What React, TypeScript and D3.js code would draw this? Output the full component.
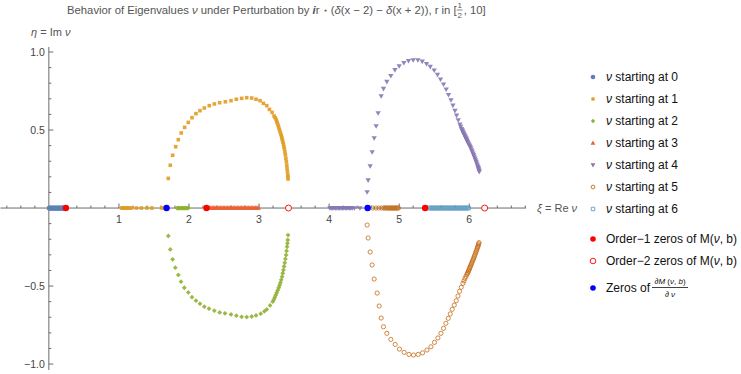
import { useEffect, useRef } from "react";
import * as d3 from "d3";

const width = 741;
const height = 374;

// real parts of the points that stay on the real axis
const axis0 = [0.005, 0.02, 0.035, 0.05, 0.065, 0.08, 0.095, 0.11, 0.125, 0.14, 0.155, 0.17, 0.185, 0.2, 0.215, 0.23];
const axis1 = [1.04, 1.055, 1.07, 1.085, 1.1, 1.115, 1.13, 1.15, 1.18, 1.25, 1.32, 1.4, 1.47, 1.61, 1.65];
const axis2 = [1.99, 1.975, 1.96, 1.945, 1.93, 1.915, 1.9, 1.885, 1.87, 1.855, 1.84, 1.83];
const axis3 = [2.99, 2.97, 2.95, 2.93, 2.91, 2.89, 2.87, 2.85, 2.83, 2.81, 2.79, 2.77, 2.75, 2.73, 2.71, 2.69, 2.67, 2.65, 2.63, 2.61, 2.59, 2.57, 2.55, 2.53, 2.51, 2.49, 2.47, 2.45, 2.43, 2.41, 2.39, 2.37, 2.35, 2.33, 2.31, 2.29];
const axis4 = [4.01, 4.03, 4.05, 4.07, 4.09, 4.11, 4.13, 4.15, 4.17, 4.19, 4.21, 4.23, 4.25, 4.27, 4.29, 4.31, 4.33, 4.36, 4.44];
const axis5 = [4.99, 4.975, 4.96, 4.945, 4.93, 4.915, 4.9, 4.885, 4.87, 4.855, 4.84, 4.82, 4.8, 4.78, 4.75, 4.71, 4.67, 4.62];
const axis6 = [5.99, 5.97, 5.95, 5.93, 5.91, 5.89, 5.87, 5.85, 5.83, 5.81, 5.79, 5.77, 5.75, 5.73, 5.71, 5.69, 5.67, 5.65, 5.63, 5.61, 5.59, 5.57, 5.55, 5.53, 5.51, 5.49, 5.47, 5.45, 5.43];

// complex branches [Re, Im]
const arc1 = [[1.705, 0.19], [1.733, 0.274], [1.767, 0.338], [1.81, 0.393], [1.848, 0.438], [1.89, 0.481], [1.938, 0.517], [1.99, 0.549], [2.043, 0.579], [2.1, 0.605], [2.157, 0.624], [2.219, 0.641], [2.29, 0.656], [2.362, 0.667], [2.438, 0.675], [2.519, 0.681], [2.6, 0.688], [2.676, 0.697], [2.752, 0.703], [2.824, 0.707], [2.895, 0.705], [2.957, 0.697], [3.014, 0.688], [3.062, 0.671], [3.11, 0.656], [3.148, 0.632], [3.186, 0.613], [3.214, 0.59], [3.23, 0.578], [3.243, 0.568], [3.253, 0.555], [3.262, 0.543], [3.272, 0.53], [3.281, 0.517], [3.29, 0.503], [3.3, 0.489], [3.31, 0.475], [3.319, 0.462], [3.326, 0.449], [3.333, 0.436], [3.341, 0.422], [3.348, 0.408], [3.355, 0.393], [3.362, 0.378], [3.369, 0.359], [3.376, 0.34], [3.383, 0.318], [3.39, 0.297], [3.395, 0.275], [3.4, 0.254], [3.405, 0.233], [3.41, 0.212], [3.412, 0.199], [3.414, 0.186]];
const arc2 = [[1.705, -0.179], [1.733, -0.265], [1.767, -0.329], [1.805, -0.382], [1.848, -0.429], [1.886, -0.472], [1.933, -0.511], [1.99, -0.541], [2.043, -0.571], [2.1, -0.594], [2.157, -0.613], [2.219, -0.632], [2.286, -0.645], [2.362, -0.658], [2.438, -0.669], [2.514, -0.675], [2.6, -0.682], [2.676, -0.69], [2.752, -0.697], [2.824, -0.699], [2.895, -0.695], [2.957, -0.688], [3.024, -0.677], [3.076, -0.662], [3.11, -0.65], [3.157, -0.624], [3.195, -0.6], [3.21, -0.587], [3.224, -0.573], [3.238, -0.558], [3.252, -0.543], [3.266, -0.527], [3.281, -0.511], [3.293, -0.495], [3.305, -0.479], [3.317, -0.46], [3.329, -0.44], [3.338, -0.418], [3.348, -0.397], [3.357, -0.374], [3.367, -0.351], [3.376, -0.326], [3.386, -0.301], [3.393, -0.275], [3.4, -0.248], [3.405, -0.226], [3.41, -0.205], [3.414, -0.173]];
const arc4 = [[4.543, 0.103], [4.557, 0.179], [4.586, 0.269], [4.614, 0.359], [4.643, 0.449], [4.671, 0.526], [4.7, 0.609], [4.743, 0.718], [4.776, 0.765], [4.824, 0.81], [4.881, 0.848], [4.939, 0.885], [5.0, 0.91], [5.067, 0.931], [5.133, 0.944], [5.2, 0.949], [5.267, 0.949], [5.329, 0.94], [5.39, 0.925], [5.443, 0.906], [5.5, 0.883], [5.547, 0.855], [5.59, 0.825], [5.633, 0.793], [5.671, 0.761], [5.704, 0.726], [5.739, 0.692], [5.767, 0.658], [5.796, 0.624], [5.819, 0.594], [5.843, 0.564], [5.867, 0.537], [5.878, 0.522], [5.89, 0.508], [5.898, 0.5], [5.905, 0.493], [5.912, 0.486], [5.919, 0.479], [5.926, 0.472], [5.933, 0.466], [5.94, 0.459], [5.947, 0.453], [5.955, 0.446], [5.962, 0.439], [5.969, 0.432], [5.976, 0.425], [5.985, 0.417], [5.995, 0.409], [6.004, 0.401], [6.014, 0.393], [6.024, 0.383], [6.033, 0.372], [6.043, 0.362], [6.053, 0.351], [6.062, 0.341], [6.071, 0.33], [6.081, 0.319], [6.09, 0.308], [6.099, 0.297], [6.107, 0.287], [6.116, 0.276], [6.124, 0.265], [6.129, 0.257], [6.134, 0.249], [6.139, 0.241], [6.143, 0.233]];
const arc5 = [[4.543, -0.109], [4.557, -0.192], [4.586, -0.282], [4.614, -0.365], [4.643, -0.455], [4.686, -0.545], [4.714, -0.628], [4.743, -0.705], [4.776, -0.761], [4.824, -0.803], [4.881, -0.842], [4.943, -0.874], [5.004, -0.904], [5.071, -0.925], [5.139, -0.938], [5.204, -0.942], [5.271, -0.938], [5.333, -0.928], [5.396, -0.91], [5.453, -0.889], [5.504, -0.861], [5.553, -0.833], [5.596, -0.803], [5.633, -0.771], [5.667, -0.739], [5.7, -0.707], [5.729, -0.679], [5.757, -0.649], [5.786, -0.622], [5.814, -0.594], [5.839, -0.564], [5.861, -0.534], [5.886, -0.508], [5.91, -0.483], [5.925, -0.467], [5.939, -0.451], [5.953, -0.438], [5.967, -0.425], [5.975, -0.418], [5.982, -0.411], [5.989, -0.404], [5.996, -0.397], [6.003, -0.389], [6.01, -0.381], [6.017, -0.373], [6.024, -0.365], [6.032, -0.356], [6.04, -0.347], [6.048, -0.338], [6.057, -0.329], [6.065, -0.32], [6.073, -0.31], [6.081, -0.3], [6.09, -0.29], [6.097, -0.28], [6.105, -0.271], [6.112, -0.261], [6.119, -0.252], [6.125, -0.244], [6.13, -0.237], [6.135, -0.229], [6.139, -0.222]];

// special points on the real axis
const order1Zeros = [0.243, 2.25, 5.37];
const order2Zeros = [3.42, 6.22];
const derivZeros = [1.68, 4.55];

const seriesColors = ["#5e81b5", "#e19c24", "#8fb032", "#eb6235", "#8778b3", "#c56e1a", "#5d9ec7"];
const seriesMarkers = ["circle", "square", "diamond", "triUp", "triDown", "openCircle", "openSquare"];
const seriesLabels = ["0", "1", "2", "3", "4", "5", "6"];

function markerPath(kind, s) {
  if (kind === "circle" || kind === "openCircle")
    return `M${-s},0A${s},${s} 0 1,0 ${s},0A${s},${s} 0 1,0 ${-s},0Z`;
  if (kind === "square" || kind === "openSquare")
    return `M${-s},${-s}h${2 * s}v${2 * s}h${-2 * s}Z`;
  if (kind === "diamond") return `M0,${-s}L${s},0L0,${s}L${-s},0Z`;
  if (kind === "triUp") return `M0,${-s}L${s * 0.95},${s * 0.65}L${-s * 0.95},${s * 0.65}Z`;
  return `M0,${s}L${s * 0.95},${-s * 0.65}L${-s * 0.95},${-s * 0.65}Z`;
}

const markerSize = { circle: 2.6, square: 1.8, diamond: 2.4, triUp: 2.8, triDown: 2.8, openCircle: 2.1, openSquare: 1.9 };

function Chart() {
  const ref = useRef(null);
  useEffect(() => {
    const svg = d3.select(ref.current);
    svg.selectAll("*").remove();

    const x = d3.scaleLinear([-0.69, 6.81], [0.5, 526]);
    const y = d3.scaleLinear([-1.038, 1.032], [370, 47]);
    const font = "'Liberation Sans', Arial, sans-serif";
    const axisColor = "#6b6b6b";
    const labelColor = "#555";

    // title
    const title = svg.append("text")
      .attr("x", 67).attr("y", 14)
      .attr("font-family", font).attr("font-size", 11.3).attr("fill", labelColor);
    title.append("tspan").text("Behavior of Eigenvalues ");
    title.append("tspan").attr("font-style", "italic").text("ν");
    title.append("tspan").text(" under Perturbation by ");
    title.append("tspan").attr("font-style", "italic").attr("font-weight", "bold").text("i");
    title.append("tspan").text("r ");
    title.append("tspan").attr("font-size", 8).attr("dy", -1).text("⋆");
    title.append("tspan").attr("dy", 1).text("  (");
    title.append("tspan").attr("font-style", "italic").text("δ");
    title.append("tspan").text("(x − 2) − ");
    title.append("tspan").attr("font-style", "italic").text("δ");
    title.append("tspan").text("(x + 2)), r in [");
    const tw = (title.node() as SVGTextElement).getComputedTextLength();
    const fx = 67 + tw + 3;
    const frac = svg.append("g").attr("font-family", font).attr("font-size", 8).attr("fill", labelColor).attr("text-anchor", "middle");
    frac.append("text").attr("x", fx).attr("y", 8).text("1");
    frac.append("line").attr("x1", fx - 3).attr("x2", fx + 3).attr("y1", 10).attr("y2", 10).attr("stroke", labelColor).attr("stroke-width", 0.7);
    frac.append("text").attr("x", fx).attr("y", 18).text("2");
    svg.append("text").attr("x", fx + 4).attr("y", 14)
      .attr("font-family", font).attr("font-size", 11.3).attr("fill", labelColor).text(", 10]");

    // axes
    const ax = svg.append("g").attr("stroke", axisColor).attr("stroke-width", 1);
    ax.append("line").attr("x1", x(-0.69)).attr("x2", x(6.81)).attr("y1", y(0)).attr("y2", y(0));
    ax.append("line").attr("x1", x(0)).attr("x2", x(0)).attr("y1", y(1.032)).attr("y2", y(-1.038));

    const xMinor = d3.range(-3, 35).map(k => k * 0.2).filter(v => Math.abs(v - Math.round(v)) > 0.01);
    const xMajor = [1, 2, 3, 4, 5, 6];
    ax.selectAll(".xm").data(xMinor).join("line")
      .attr("x1", d => x(d)).attr("x2", d => x(d)).attr("y1", y(0)).attr("y2", y(0) - 2.5);
    ax.selectAll(".xM").data(xMajor).join("line")
      .attr("x1", d => x(d)).attr("x2", d => x(d)).attr("y1", y(0)).attr("y2", y(0) - 4.5);

    const yMinor = d3.range(-10, 11).map(k => k * 0.1).filter(v => Math.abs(v * 2 - Math.round(v * 2)) > 0.01);
    const yMajor = [-1, -0.5, 0.5, 1];
    ax.selectAll(".ym").data(yMinor).join("line")
      .attr("x1", x(0)).attr("x2", x(0) + 2.5).attr("y1", d => y(d)).attr("y2", d => y(d));
    ax.selectAll(".yM").data(yMajor).join("line")
      .attr("x1", x(0)).attr("x2", x(0) + 4.5).attr("y1", d => y(d)).attr("y2", d => y(d));

    const tl = svg.append("g").attr("font-family", font).attr("font-size", 10.5).attr("fill", "#444");
    tl.selectAll(".xl").data(xMajor).join("text")
      .attr("x", d => x(d)).attr("y", y(0) + 15).attr("text-anchor", "middle").text(d => d);
    tl.selectAll(".yl").data(yMajor).join("text")
      .attr("x", x(0) - 4).attr("y", d => y(d) + 4).attr("text-anchor", "end")
      .text(d => d3.format(".1f")(d).replace("-", "−"));

    const xl = svg.append("text").attr("x", 537).attr("y", y(0) + 4)
      .attr("font-family", font).attr("font-size", 11).attr("fill", labelColor);
    xl.append("tspan").attr("font-style", "italic").text("ξ");
    xl.append("tspan").text(" = Re ");
    xl.append("tspan").attr("font-style", "italic").text("ν");
    const yl = svg.append("text").attr("x", 31).attr("y", 36)
      .attr("font-family", font).attr("font-size", 11).attr("fill", labelColor);
    yl.append("tspan").attr("font-style", "italic").text("η");
    yl.append("tspan").text(" = Im ");
    yl.append("tspan").attr("font-style", "italic").text("ν");

    // series
    const onAxis = a => a.map(v => [v, 0]);
    const seriesData = [
      onAxis(axis0),
      onAxis(axis1).concat(arc1),
      onAxis(axis2).concat(arc2),
      onAxis(axis3),
      onAxis(axis4).concat(arc4),
      onAxis(axis5).concat(arc5),
      onAxis(axis6),
    ];
    seriesData.forEach((pts, i) => {
      const kind = seriesMarkers[i];
      const open = kind.startsWith("open");
      svg.append("g").selectAll("path").data(pts).join("path")
        .attr("transform", d => `translate(${x(d[0])},${y(d[1])})`)
        .attr("d", markerPath(kind, markerSize[kind]))
        .attr("fill", open ? "none" : seriesColors[i])
        .attr("stroke", open ? seriesColors[i] : "none")
        .attr("stroke-width", 0.9)
        .attr("opacity", 0.9);
    });

    // zeros
    svg.append("g").selectAll("circle").data(order1Zeros).join("circle")
      .attr("cx", d => x(d)).attr("cy", y(0)).attr("r", 3.2).attr("fill", "#f00");
    svg.append("g").selectAll("circle").data(order2Zeros).join("circle")
      .attr("cx", d => x(d)).attr("cy", y(0)).attr("r", 3).attr("fill", "#fff").attr("stroke", "#f00").attr("stroke-width", 0.9);
    svg.append("g").selectAll("circle").data(derivZeros).join("circle")
      .attr("cx", d => x(d)).attr("cy", y(0)).attr("r", 3.2).attr("fill", "#00f");

    // legend
    const lg = svg.append("g").attr("font-family", font).attr("font-size", 12).attr("fill", "#111");
    seriesLabels.forEach((lab, i) => {
      const ly = 77 + i * 22;
      const kind = seriesMarkers[i];
      const open = kind.startsWith("open");
      lg.append("path").attr("transform", `translate(593,${ly})`)
        .attr("d", markerPath(kind, markerSize[kind] * 0.9))
        .attr("fill", open ? "none" : seriesColors[i])
        .attr("stroke", open ? seriesColors[i] : "none").attr("stroke-width", 0.9);
      const t = lg.append("text").attr("x", 606).attr("y", ly + 4);
      t.append("tspan").attr("font-style", "italic").text("ν");
      t.append("tspan").text(" starting at " + lab);
    });
    [["#f00", false, 239], ["#f00", true, 261]].forEach(([c, open, ly], k) => {
      lg.append("circle").attr("cx", 593).attr("cy", ly).attr("r", 2.8)
        .attr("fill", open ? "#fff" : c).attr("stroke", open ? c : "none").attr("stroke-width", 0.9);
      const t = lg.append("text").attr("x", 606).attr("y", (ly as number) + 4);
      t.append("tspan").text(`Order−${k + 1} zeros of M(`);
      t.append("tspan").attr("font-style", "italic").text("ν");
      t.append("tspan").text(", b)");
    });
    lg.append("circle").attr("cx", 593).attr("cy", 288).attr("r", 2.8).attr("fill", "#00f");
    lg.append("text").attr("x", 606).attr("y", 292).text("Zeros of");
    const num = lg.append("text").attr("x", 670).attr("y", 284).attr("font-size", 8).attr("text-anchor", "middle");
    num.append("tspan").attr("font-style", "italic").text("∂M");
    num.append("tspan").text(" (");
    num.append("tspan").attr("font-style", "italic").text("ν");
    num.append("tspan").text(", ");
    num.append("tspan").attr("font-style", "italic").text("b");
    num.append("tspan").text(")");
    lg.append("line").attr("x1", 652).attr("x2", 688).attr("y1", 287.5).attr("y2", 287.5).attr("stroke", "#111").attr("stroke-width", 0.8);
    const den = lg.append("text").attr("x", 670).attr("y", 297).attr("font-size", 8).attr("text-anchor", "middle");
    den.append("tspan").attr("font-style", "italic").text("∂ ν");
  }, []);

  return <svg ref={ref} width={width} height={height} style={{ display: "block" }} />;
}

export default function App() {
  return (
    <div style={{ position: "absolute", left: 0, top: 0, background: "#fff" }}>
      <Chart />
    </div>
  );
}
